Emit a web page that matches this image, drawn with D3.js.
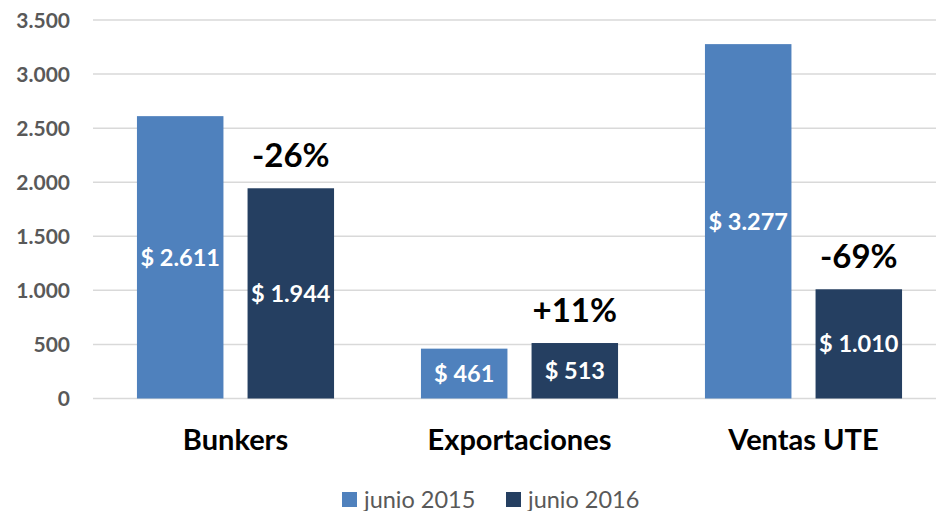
<!DOCTYPE html>
<html>
<head>
<meta charset="utf-8">
<script src="https://cdn.jsdelivr.net/npm/d3@7"></script>
<style>
body { margin:0; background:#fff; }
svg { display:block; font-family: Lato, "Open Sans", sans-serif; }
.tick-label { fill:#595959; font-weight:bold; font-size:21px; }
.cat-label { fill:#000; font-weight:bold; font-size:29px; }
.val-label { fill:#fff; font-weight:bold; font-size:23.5px; }
.pct-label { fill:#000; font-weight:bold; font-size:33px; }
.legend-label { fill:#595959; font-size:23.5px; }
</style>
</head>
<body>
<svg id="chart"></svg>
<script>
// chart data
var categories = ["Bunkers", "Exportaciones", "Ventas UTE"];
var seriesNames = ["junio 2015", "junio 2016"];
var values2015 = [2611, 461, 3277];
var values2016 = [1944, 513, 1010];
var changeLabels = ["-26%", "+11%", "-69%"];
var yTicks = [0, 500, 1000, 1500, 2000, 2500, 3000, 3500];

var colors = {"junio 2015":"#4f81bd", "junio 2016":"#253f61"};

var screen = {width:936, height:511};

var svg = d3.select("#chart")
    .attr("width", screen.width)
    .attr("height", screen.height);

// scales
var xScale = d3.scaleBand()
    .domain(categories)
    .range([93.5, 945.5])
    .paddingInner(0.306)
    .paddingOuter(0.153);

var xInner = d3.scaleBand()
    .domain(seriesNames)
    .range([0, xScale.bandwidth()])
    .paddingInner(0.218);

var yScale = d3.scaleLinear()
    .domain([0, 3500])
    .range([398.5, 20]);

var fmt = function(v){
    return d3.format(",")(v).replace(/,/g, ".");
}

// gridlines
svg.append("g")
    .selectAll("line")
    .data(yTicks)
    .enter()
    .append("line")
    .attr("x1", 93)
    .attr("x2", screen.width)
    .attr("y1", function(d){ return yScale(d); })
    .attr("y2", function(d){ return yScale(d); })
    .attr("stroke", "#d9d9d9")
    .attr("stroke-width", 1.5);

// y axis labels
svg.append("g")
    .selectAll("text")
    .data(yTicks)
    .enter()
    .append("text")
    .classed("tick-label", true)
    .attr("x", 70)
    .attr("y", function(d){ return yScale(d); })
    .attr("dy", "0.36em")
    .attr("text-anchor", "end")
    .text(function(d){ return fmt(d); });

// bars
var rows = categories.map(function(c, i){
    return {
        category: c,
        bars: [
            {series: seriesNames[0], value: values2015[i]},
            {series: seriesNames[1], value: values2016[i]}
        ],
        change: changeLabels[i]
    };
});

var groups = svg.append("g")
    .selectAll("g")
    .data(rows)
    .enter()
    .append("g")
    .attr("transform", function(d){ return "translate(" + xScale(d.category) + ",0)"; });

groups.selectAll("rect")
    .data(function(d){ return d.bars; })
    .enter()
    .append("rect")
    .attr("x", function(d){ return xInner(d.series); })
    .attr("width", xInner.bandwidth())
    .attr("y", function(d){ return yScale(d.value); })
    .attr("height", function(d){ return yScale(0) - yScale(d.value); })
    .attr("fill", function(d){ return colors[d.series]; });

// value labels in the middle of bars
groups.selectAll(".val-label")
    .data(function(d){ return d.bars; })
    .enter()
    .append("text")
    .classed("val-label", true)
    .attr("x", function(d){ return xInner(d.series) + xInner.bandwidth()/2; })
    .attr("y", function(d){ return (yScale(d.value) + yScale(0))/2; })
    .attr("dy", "0.36em")
    .attr("text-anchor", "middle")
    .text(function(d){ return "$ " + fmt(d.value); });

// percent change labels above 2016 bar
groups.append("text")
    .classed("pct-label", true)
    .attr("x", xInner(seriesNames[1]) + xInner.bandwidth()/2)
    .attr("y", function(d){ return yScale(d.bars[1].value) - 21; })
    .attr("text-anchor", "middle")
    .text(function(d){ return d.change; });

// category labels
svg.append("g")
    .selectAll("text")
    .data(categories)
    .enter()
    .append("text")
    .classed("cat-label", true)
    .attr("x", function(d){ return xScale(d) + xScale.bandwidth()/2; })
    .attr("y", 450)
    .attr("text-anchor", "middle")
    .text(function(d){ return d; });

// legend
var legendX = [342, 506];
var legend = svg.append("g")
    .selectAll("g")
    .data(seriesNames)
    .enter()
    .append("g")
    .attr("transform", function(d, i){ return "translate(" + legendX[i] + ",492)"; });

legend.append("rect")
    .attr("width", 15)
    .attr("height", 15)
    .attr("fill", function(d){ return colors[d]; });

legend.append("text")
    .classed("legend-label", true)
    .attr("x", 22)
    .attr("y", 15.5)
    .text(function(d){ return d; });
</script>
</body>
</html>
